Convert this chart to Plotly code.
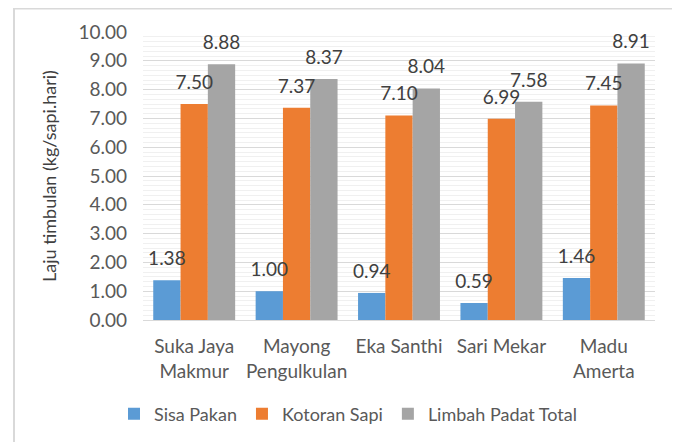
import plotly.graph_objects as go

categories = ["Suka Jaya<br>Makmur", "Mayong<br>Pengulkulan", "Eka Santhi", "Sari Mekar", "Madu<br>Amerta"]
sisa_pakan = [1.38, 1.00, 0.94, 0.59, 1.46]
kotoran_sapi = [7.50, 7.37, 7.10, 6.99, 7.45]
limbah_total = [8.88, 8.37, 8.04, 7.58, 8.91]
series_names = ["Sisa Pakan", "Kotoran Sapi", "Limbah Padat Total"]
y_ticks = [0, 1, 2, 3, 4, 5, 6, 7, 8, 9, 10]
y_title = "Laju timbulan (kg/sapi.hari)"

colors = ["#5B9BD5", "#ED7D31", "#A5A5A5"]
FONT = "Lato"
FS = 19
series = [sisa_pakan, kotoran_sapi, limbah_total]

W, H = 672, 434
L, R, T, B = 135, 25, 24, 122
PW, PH = W - L - R, H - T - B

fig = go.Figure()
for name, vals, col in zip(series_names, series, colors):
    fig.add_trace(go.Bar(x=categories, y=vals, name=name, marker_color=col,
                         marker_line_width=0))
for name, vals in zip(series_names, series):
    fig.add_trace(go.Scatter(x=categories, y=vals, mode="markers+text",
                             text=[f"{v:.2f}" for v in vals],
                             textposition="top center",
                             textfont=dict(family=FONT, size=FS, color="#404040"),
                             marker=dict(size=15, color="rgba(0,0,0,0)"),
                             showlegend=False, cliponaxis=False, hoverinfo="skip"))

fig.update_layout(
    width=W, height=H,
    margin=dict(l=L, r=R, t=T, b=B, autoexpand=False),
    paper_bgcolor="white", plot_bgcolor="white",
    barmode="group", bargap=0.2, bargroupgap=0,
    scattermode="group", scattergap=0.2,
    font=dict(family=FONT, color="#595959", size=FS),
    legend=dict(orientation="h", x=(340 - L) / PW, xanchor="center", y=-0.262, yanchor="top",
                font=dict(family=FONT, size=18, color="#595959"),
                itemwidth=30, traceorder="normal"),
    showlegend=True,
)
fig.update_yaxes(range=[0, 10], tickvals=y_ticks, tickformat=".2f", automargin=False,
                 showgrid=True, gridcolor="#D9D9D9", gridwidth=1,
                 minor=dict(dtick=1/6, showgrid=True, gridcolor="#F0F0F0", gridwidth=1),
                 zeroline=False, showline=False, ticks="", ticklabelstandoff=15,
                 tickfont=dict(family=FONT, size=FS, color="#595959"))
fig.update_xaxes(showline=True, linecolor="#D9D9D9", linewidth=1, ticks="", automargin=False,
                 ticklabelstandoff=9,
                 tickfont=dict(family=FONT, size=FS, color="#595959"))

fig.add_annotation(text=y_title, xref="paper", yref="paper",
                   x=(41 - L) / PW, y=0.5, textangle=-90, showarrow=False,
                   xanchor="center", yanchor="middle",
                   font=dict(family=FONT, size=18, color="#404040"))

fig.add_shape(type="rect", xref="paper", yref="paper",
              x0=(6 - L) / PW, x1=(665 - L) / PW,
              y0=(T + PH - (H + 10)) / PH, y1=(T + PH - 0.5) / PH,
              line=dict(color="#D9D9D9", width=2), fillcolor="rgba(0,0,0,0)", layer="below")

fig.write_html("out.html")
